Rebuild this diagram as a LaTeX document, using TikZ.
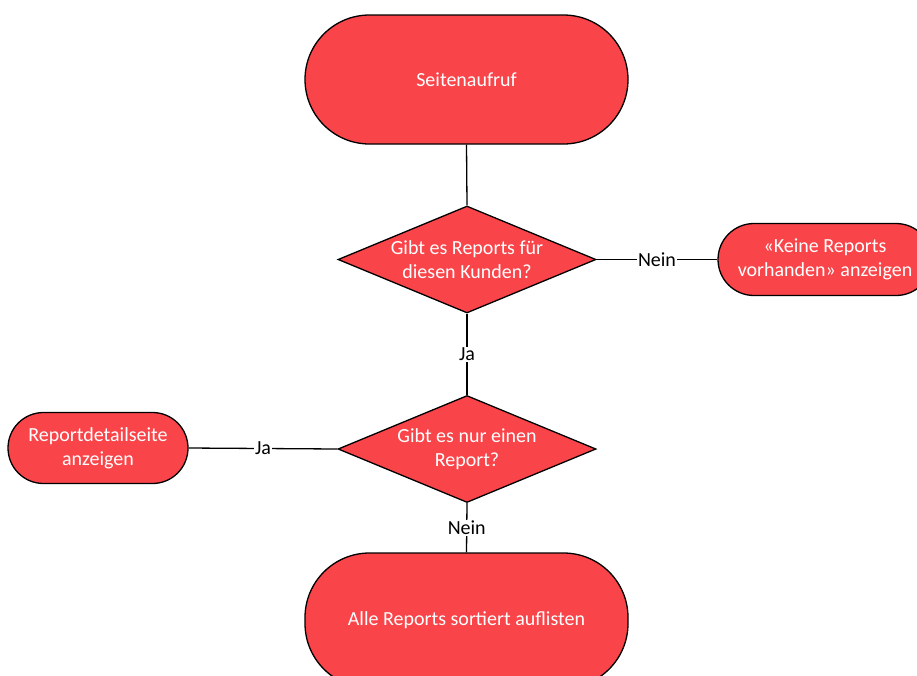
\documentclass[tikz,border=0pt]{standalone}
\usepackage{fontspec}
\setmainfont{Carlito}
\usetikzlibrary{shapes.geometric}
\definecolor{boxred}{RGB}{249,68,73}
\begin{document}
\begin{tikzpicture}[x=1pt,y=-1pt,
  every node/.style={font=\fontsize{20}{24}\selectfont},
  term/.style={draw=black,line width=1.3pt,fill=boxred,text=white,rectangle,inner sep=0pt,align=center},
  decision/.style={draw=black,line width=1.3pt,fill=boxred,text=white,diamond,inner sep=0pt,minimum width=258pt,minimum height=107pt,align=center},
  conn/.style={line width=1.3pt,draw=black},
  lbl/.style={fill=white,text=black,inner sep=1pt}]
\useasboundingbox (0,0) rectangle (917,675);
\node[term,minimum width=323pt,minimum height=129pt,rounded corners=64.5pt] (start) at (466.5,79.5) {Seitenaufruf};
\node[decision] (d1) at (467,259.5) {\makebox[0pt]{Gibt es Reports für}\\\makebox[0pt]{diesen Kunden?}};
\node[term,minimum width=214pt,minimum height=72pt,rounded corners=36pt] (none) at (825,259.5) {«Keine Reports\\vorhanden» anzeigen};
\node[decision] (d2) at (467,449) {\makebox[0pt]{Gibt es nur einen}\\\makebox[0pt]{Report?}};
\node[term,minimum width=180pt,minimum height=71pt,rounded corners=35.5pt] (detail) at (98,448) {Reportdetailseite\\anzeigen};
\node[term,minimum width=323pt,minimum height=135pt,rounded corners=64.5pt] (list) at (466.5,620.5) {Alle Reports sortiert auflisten};
\draw[conn] (start.south) -- (d1.north);
\draw[conn] (d1.east) -- node[lbl] (l1) {Nein} (none.west);
\draw[conn] (d1.south) -- node[lbl] (l2) {Ja} (d2.north);
\draw[conn] (d2.west) -- node[lbl] (l3) {Ja} (detail.east);
\draw[conn] (d2.south) -- node[lbl] (l4) {Nein} (list.north);
\end{tikzpicture}
\end{document}
